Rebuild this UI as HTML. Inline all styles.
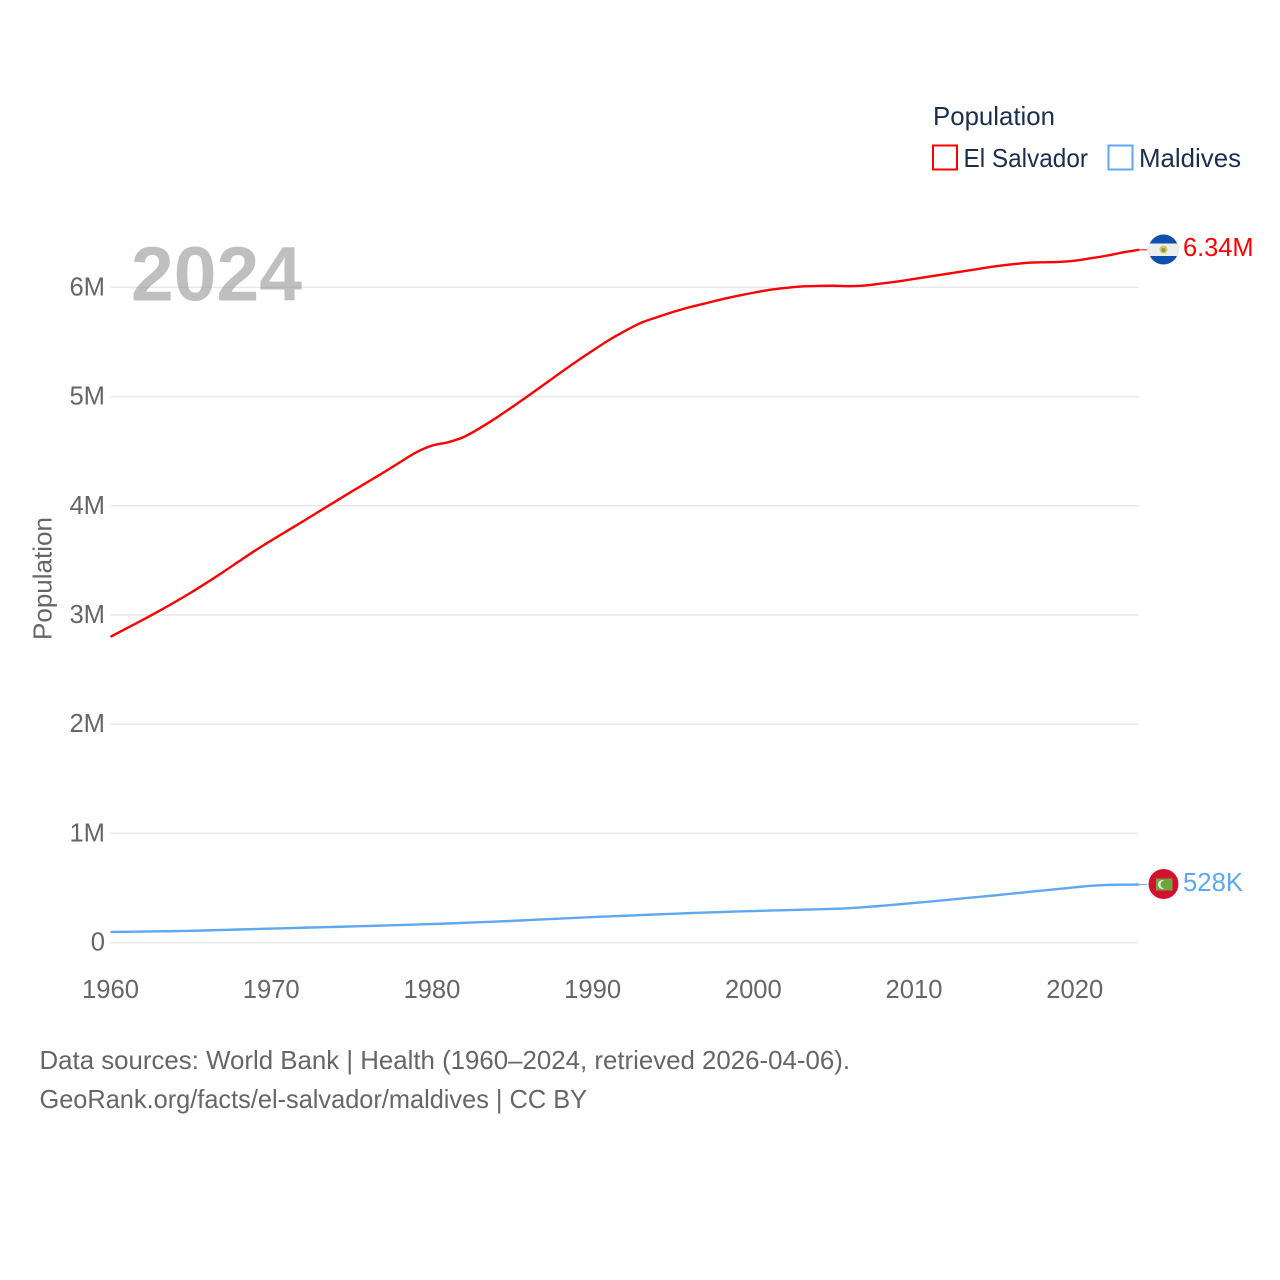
<!DOCTYPE html>
<html lang="en">
<head>
<meta charset="utf-8">
<title>Population: El Salvador and Maldives</title>
<style>
  html, body { margin: 0; padding: 0; background: #ffffff; }
  svg { display: block; }
  text { font-family: "Liberation Sans", sans-serif; }
</style>
</head>
<body>
<svg id="chart" xmlns="http://www.w3.org/2000/svg" width="1280" height="1280" viewBox="0 0 1280 1280">
  <rect width="1280" height="1280" fill="#ffffff"/>
  <g id="grid"></g>
  <g id="y-ticks"></g>
  <g id="x-ticks"></g>
  <text transform="translate(51.500,640) rotate(-90)" font-size="26" fill="#666666" textLength="123" lengthAdjust="spacingAndGlyphs">Population</text>
  <text x="131" y="300.500" font-size="77" font-weight="700" fill="#808080" fill-opacity="0.5" textLength="171" lengthAdjust="spacingAndGlyphs">2024</text>
  <g id="series"></g>

  <g>
    <text x="933" y="125" font-size="26" fill="#1a2f50" textLength="122" lengthAdjust="spacingAndGlyphs">Population</text>
    <rect x="933" y="145.500" width="24" height="24" fill="none" stroke="#ff0000" stroke-width="2"/>
    <text x="963.500" y="167" font-size="26" fill="#1a2f50" textLength="124.500" lengthAdjust="spacingAndGlyphs">El Salvador</text>
    <rect x="1108.500" y="145.500" width="24" height="24" fill="none" stroke="#5fa8f0" stroke-width="2"/>
    <text x="1139" y="167" font-size="26" fill="#1a2f50" textLength="102" lengthAdjust="spacingAndGlyphs">Maldives</text>
  </g>

  <defs>
    <clipPath id="flag-clip-sv"><circle cx="1163.500" cy="249.500" r="15"/></clipPath>
  </defs>
  <g clip-path="url(#flag-clip-sv)">
    <rect x="1148" y="234" width="31" height="31" fill="#0f50ae"/>
    <rect x="1148" y="243.500" width="31" height="12.500" fill="#eeeeee"/>
    <circle cx="1163.500" cy="249.500" r="4" fill="#d9c35a"/>
    <circle cx="1163.500" cy="250" r="2" fill="#7f9a4a"/>
  </g>
  <text x="1183" y="256" font-size="26" fill="#ff0000" textLength="70.500" lengthAdjust="spacingAndGlyphs">6.34M</text>

  <g>
    <circle cx="1163.500" cy="884" r="15" fill="#d4102f"/>
    <rect x="1156" y="878.500" width="16.500" height="12" fill="#6ea53f"/>
    <circle cx="1162.500" cy="884.500" r="4.500" fill="#e8efe0"/>
    <circle cx="1164.500" cy="884.500" r="4" fill="#6ea53f"/>
  </g>
  <text x="1183" y="891" font-size="26" fill="#5fa8f0" textLength="60" lengthAdjust="spacingAndGlyphs">528K</text>

  <text x="39.500" y="1069" font-size="26" fill="#666666" textLength="810.500" lengthAdjust="spacingAndGlyphs">Data sources: World Bank | Health (1960–2024, retrieved 2026-04-06).</text>
  <text x="39.500" y="1108" font-size="26" fill="#666666" textLength="547.500" lengthAdjust="spacingAndGlyphs">GeoRank.org/facts/el-salvador/maldives | CC BY</text>
</svg>
<script>
const years = [1960,1961,1962,1963,1964,1965,1966,1967,1968,1969,1970,1971,1972,1973,1974,1975,1976,1977,1978,1979,1980,1981,1982,1983,1984,1985,1986,1987,1988,1989,1990,1991,1992,1993,1994,1995,1996,1997,1998,1999,2000,2001,2002,2003,2004,2005,2006,2007,2008,2009,2010,2011,2012,2013,2014,2015,2016,2017,2018,2019,2020,2021,2022,2023,2024];
const elSalvadorValues = [2.80,2.878,2.955,3.035,3.118,3.205,3.297,3.393,3.492,3.590,3.682,3.771,3.860,3.950,4.040,4.130,4.218,4.306,4.398,4.488,4.551,4.582,4.631,4.713,4.805,4.905,5.008,5.113,5.219,5.322,5.421,5.516,5.600,5.675,5.727,5.775,5.817,5.853,5.89,5.922,5.951,5.977,5.995,6.009,6.013,6.015,6.011,6.018,6.036,6.055,6.078,6.10,6.123,6.146,6.169,6.192,6.21,6.224,6.23,6.233,6.245,6.267,6.291,6.32,6.344];
const maldivesValues = [0.098,0.099,0.101,0.103,0.105,0.108,0.112,0.116,0.120,0.124,0.128,0.132,0.136,0.140,0.144,0.148,0.152,0.156,0.161,0.165,0.170,0.175,0.181,0.187,0.193,0.199,0.206,0.213,0.220,0.227,0.234,0.240,0.246,0.252,0.258,0.264,0.270,0.275,0.280,0.285,0.289,0.293,0.297,0.301,0.305,0.309,0.315,0.325,0.337,0.350,0.363,0.376,0.390,0.404,0.418,0.432,0.447,0.462,0.477,0.491,0.506,0.520,0.528,0.530,0.531];
const yTickValues = [0,1,2,3,4,5,6];
const yTickLabels = ['0','1M','2M','3M','4M','5M','6M'];
const xTickValues = [1960,1970,1980,1990,2000,2010,2020];

const SVG_NS = 'http://www.w3.org/2000/svg';
function xScale(year) { return 110.5 + (year - 1960) * (1139 - 110.5) / 64; }
function yScale(value) { return 942.6 - value * (942.6 - 287.4) / 6; }

const gridGroup = document.getElementById('grid');
const yTickGroup = document.getElementById('y-ticks');
const xTickGroup = document.getElementById('x-ticks');
const seriesGroup = document.getElementById('series');

yTickValues.forEach(function (v, i) {
  const line = document.createElementNS(SVG_NS, 'line');
  
  
  line.setAttribute('x1', xScale(1960));
  line.setAttribute('x2', xScale(2024));
  line.setAttribute('y1', yScale(v));
  line.setAttribute('y2', yScale(v));
  line.setAttribute('stroke', '#e9e9e9');
  line.setAttribute('stroke-width', '1.5');
  gridGroup.appendChild(line);

  const label = document.createElementNS(SVG_NS, 'text');
  
  
  label.setAttribute('x', '105');
  label.setAttribute('y', yScale(v) + 8);
  label.setAttribute('text-anchor', 'end');
  label.setAttribute('font-size', '25.6');
  label.setAttribute('fill', '#666666');
  label.textContent = yTickLabels[i];
  yTickGroup.appendChild(label);
});

xTickValues.forEach(function (year) {
  const label = document.createElementNS(SVG_NS, 'text');
  
  
  label.setAttribute('x', xScale(year));
  label.setAttribute('y', '998');
  label.setAttribute('text-anchor', 'middle');
  label.setAttribute('font-size', '25.6');
  label.setAttribute('fill', '#666666');
  label.textContent = String(year);
  xTickGroup.appendChild(label);
});

function smoothPath(values) {
  const p = values.map(function (v, i) {
    return [xScale(years[i]), yScale(v)];
  });
  let d = 'M' + p[0][0].toFixed(2) + ' ' + p[0][1].toFixed(2);
  for (let i = 0; i < p.length - 1; i++) {
    const a = p[Math.max(i - 1, 0)];
    const b = p[i];
    const c = p[i + 1];
    const e = p[Math.min(i + 2, p.length - 1)];
    const c1x = b[0] + (c[0] - a[0]) / 6;
    const c1y = b[1] + (c[1] - a[1]) / 6;
    const c2x = c[0] - (e[0] - b[0]) / 6;
    const c2y = c[1] - (e[1] - b[1]) / 6;
    d += 'C' + c1x.toFixed(2) + ' ' + c1y.toFixed(2) + ' ' + c2x.toFixed(2) + ' ' + c2y.toFixed(2) + ' ' + c[0].toFixed(2) + ' ' + c[1].toFixed(2);
  }
  return d;
}

function drawSeries(values, color, name) {
  const line = document.createElementNS(SVG_NS, 'path');
  
  
  line.setAttribute('d', smoothPath(values));
  line.setAttribute('fill', 'none');
  line.setAttribute('stroke', color);
  line.setAttribute('stroke-width', '2.4');
  line.setAttribute('stroke-linejoin', 'round');
  seriesGroup.appendChild(line);

  const lastY = yScale(values[values.length - 1]);
  const connector = document.createElementNS(SVG_NS, 'line');
  
  
  connector.setAttribute('x1', xScale(2024));
  connector.setAttribute('x2', '1147');
  connector.setAttribute('y1', lastY);
  connector.setAttribute('y2', lastY);
  connector.setAttribute('stroke', color);
  connector.setAttribute('stroke-width', '1');
  seriesGroup.appendChild(connector);
}

drawSeries(elSalvadorValues, '#ff0000', 'el-salvador');
drawSeries(maldivesValues, '#5fa8f0', 'maldives');
</script>
</body>
</html>
